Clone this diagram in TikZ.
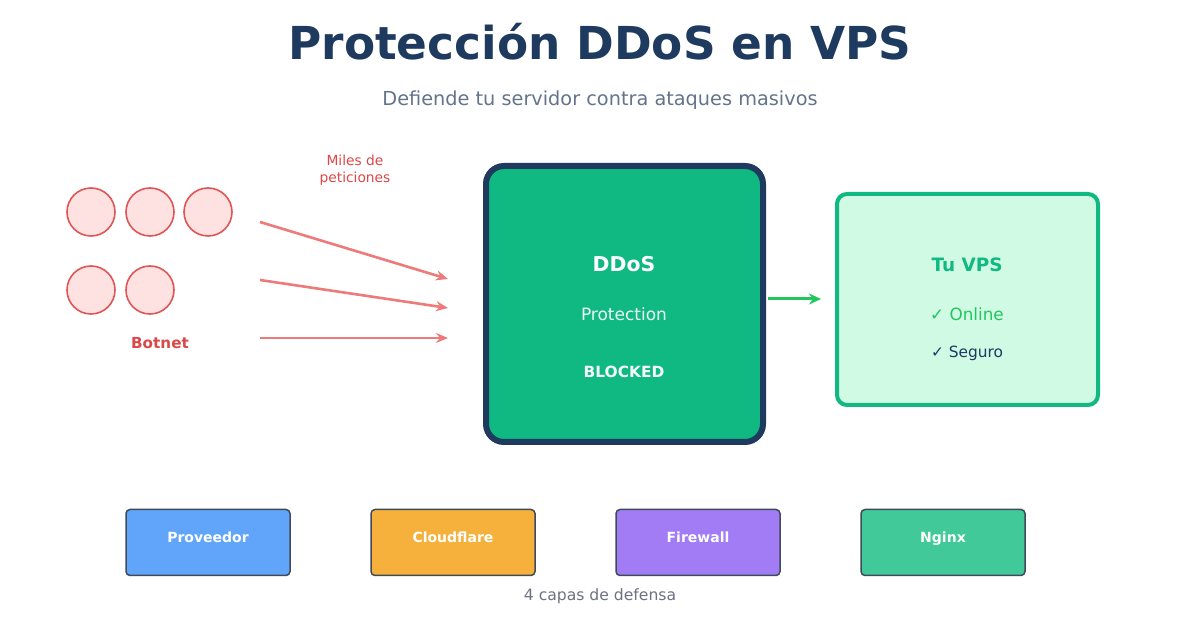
\documentclass[tikz,border=0pt]{standalone}
\usepackage{fontspec}
\setmainfont{DejaVu Sans}
\usetikzlibrary{arrows.meta,positioning,calc}
\definecolor{navy}{HTML}{1E3A5F}
\definecolor{slate}{HTML}{64748B}
\definecolor{botFill}{HTML}{FEE2E2}
\definecolor{botLine}{HTML}{E05656}
\definecolor{botText}{HTML}{DC4848}
\definecolor{reqLine}{HTML}{EE7A7A}
\definecolor{shield}{HTML}{10B981}
\definecolor{okGreen}{HTML}{22C55E}
\definecolor{vpsFill}{HTML}{D1FAE5}
\definecolor{layerA}{HTML}{60A5FA}
\definecolor{layerB}{HTML}{F5B13C}
\definecolor{layerC}{HTML}{A17CF5}
\definecolor{layerD}{HTML}{41C999}
\definecolor{layerLine}{HTML}{3F4A5A}
\definecolor{note}{HTML}{6B7280}

\begin{document}
\begin{tikzpicture}[x=0.5pt, y=-0.5pt,
    bot/.style={circle, draw=botLine, fill=botFill, line width=0.8pt, minimum size=24pt, inner sep=0pt},
    request/.style={reqLine, line width=1.3pt, -{Stealth[length=6pt, width=5pt]}},
    layer/.style={draw=layerLine, line width=0.75pt, rounded corners=2pt,
                  minimum width=82pt, minimum height=33pt, inner sep=0pt},
    layertext/.style={text=white, anchor=base, font=\fontsize{7}{8}\selectfont\bfseries}]
  \useasboundingbox[fill=white] (0,0) rectangle (1200,630);

  % Header
  \node[navy, font=\fontsize{22.7}{26}\selectfont\bfseries] (title) at (600,42) {Protección DDoS en VPS};
  \node[slate, font=\fontsize{9.65}{11}\selectfont] (subtitle) at (600,100) {Defiende tu servidor contra ataques masivos};

  % Botnet cluster
  \foreach \n/\x/\y in {1/91/212, 2/150/212, 3/208/212, 4/91/290, 5/150/290}
    \node[bot] (bot\n) at (\x,\y) {};
  \node[botText, font=\fontsize{7.6}{9}\selectfont\bfseries] (botnet) at (160,343) {Botnet};
  \node[botText, font=\fontsize{6.9}{8.4}\selectfont, align=center] (miles) at (355,170) {Miles de\\peticiones};

  % Requests
  \coordinate (req1) at (260,222); \coordinate (hit1) at (448,279);
  \coordinate (req2) at (260,280); \coordinate (hit2) at (448,308);
  \coordinate (req3) at (260,338); \coordinate (hit3) at (448,338);
  \foreach \i in {1,2,3}
    \draw[request] (req\i) -- (hit\i);

  % Protection box
  \node[draw=navy, fill=shield, line width=3pt, rounded corners=9pt,
        minimum width=138.5pt, minimum height=138pt] (ddos) at (624.5,304) {};
  \node[white, font=\fontsize{10.2}{12}\selectfont\bfseries] (ddosname) at (624,264) {DDoS};
  \node[white!92!shield, font=\fontsize{8.5}{10}\selectfont] (ddosprot) at (624,314) {Protection};
  \node[white!95!shield, font=\fontsize{7.7}{9}\selectfont\bfseries] (ddosblock) at (624,372) {BLOCKED};

  % VPS box
  \node[draw=shield, fill=vpsFill, line width=2pt, rounded corners=5pt,
        minimum width=130.5pt, minimum height=105.5pt] (vps) at (967.5,299.5) {};
  \node[shield, font=\fontsize{9.2}{11}\selectfont\bfseries] (vpsname) at (967,265) {Tu VPS};
  \node[okGreen, font=\fontsize{8.4}{10}\selectfont] (online) at (967,314) {✓ Online};
  \node[navy, font=\fontsize{7.7}{9}\selectfont] (seguro) at (967,353) {✓ Seguro};

  % Clean traffic
  \draw[okGreen, line width=1.5pt, -{Stealth[length=6pt, width=5.5pt]}, shorten <=1pt, shorten >=7pt]
    (ddos.east |- 0,299) -- (vps.west |- 0,299);

  % Defence layers
  \foreach \n/\x/\c/\t in {prov/208/layerA/Proveedor, cloud/453/layerB/Cloudflare,
                           fw/698/layerC/Firewall, nginx/943/layerD/Nginx} {
    \node[layer, fill=\c] (\n) at (\x,542.5) {};
    \node[layertext] (\n text) at (\x,543) {\t};
  }
  \node[note, font=\fontsize{7.8}{9}\selectfont] (capas) at (600,596) {4 capas de defensa};
\end{tikzpicture}
\end{document}
